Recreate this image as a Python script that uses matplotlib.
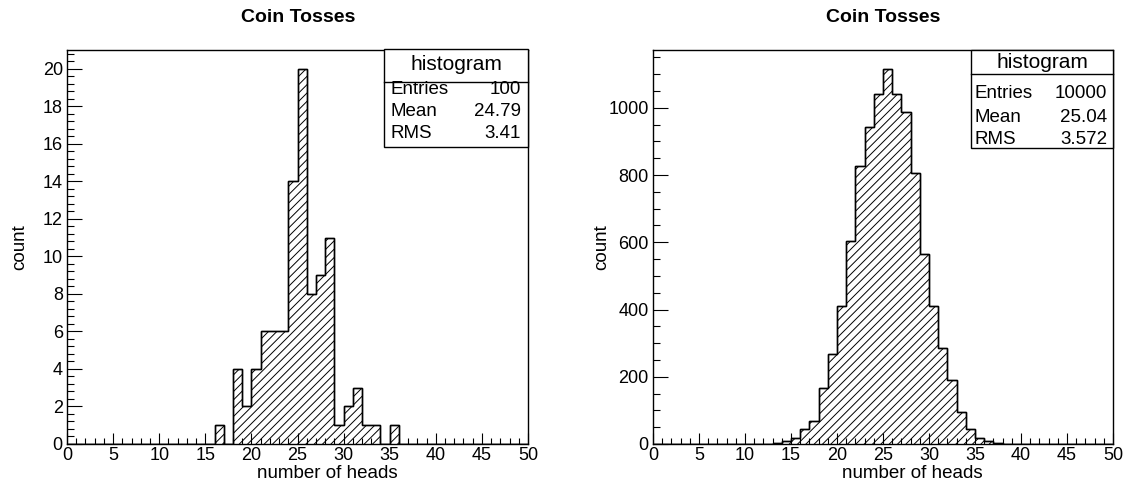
import matplotlib.pyplot as plt
import numpy as np
from matplotlib.patches import Rectangle
from matplotlib.lines import Line2D
from matplotlib.ticker import MultipleLocator

plt.rcParams['font.family'] = ['Liberation Sans', 'DejaVu Sans']
plt.rcParams['hatch.linewidth'] = 0.7

# Data: number of heads in 50 tosses (bin start) and counts
heads_left = [16, 18, 19, 20, 21, 22, 23, 24, 25, 26, 27, 28, 29, 30, 31, 32, 33, 35]
counts_left = [1, 4, 2, 4, 6, 6, 6, 14, 20, 8, 9, 11, 1, 2, 3, 1, 1, 1]

heads_right = list(range(12, 39))
counts_right = [1, 3, 10, 18, 45, 69, 166, 268, 411, 603, 828, 943, 1041, 1116,
                1041, 987, 806, 565, 409, 286, 191, 96, 46, 17, 10, 3, 1]

stat_labels = ['Entries', 'Mean', 'RMS']
stats_left = ['100', '24.79', '3.41']
stats_right = ['10000', '25.04', '3.572']

edges = np.arange(0, 51)

W, H = 1128, 486
fig = plt.figure(figsize=(W / 100, H / 100), dpi=100)


def px_rect(x0, y0, x1, y1):
    return [x0 / W, 1 - y1 / H, (x1 - x0) / W, (y1 - y0) / H]


def fx(x):
    return x / W


def fy(y):
    return 1 - y / H


def draw_hist(ax, heads, counts, ymax, ymajor, yminor):
    full = np.zeros(len(edges) - 1)
    for h, c in zip(heads, counts):
        full[h] = c
    ax.stairs(full, edges, fill=True, facecolor='none', edgecolor='black',
              hatch='////', linewidth=1.0)
    ax.stairs(full, edges, fill=False, color='black', linewidth=1.0)
    ax.set_xlim(0, 50)
    ax.set_ylim(0, ymax)
    ax.xaxis.set_major_locator(MultipleLocator(5))
    ax.xaxis.set_minor_locator(MultipleLocator(1))
    ax.yaxis.set_major_locator(MultipleLocator(ymajor))
    ax.yaxis.set_minor_locator(MultipleLocator(yminor))
    ax.tick_params(axis='x', which='major', direction='in', length=8, width=0.8,
                   labelsize=13, pad=2.5)
    ax.tick_params(axis='x', which='minor', direction='in', length=4, width=0.8)
    ax.tick_params(axis='y', which='major', direction='in', length=10.5, width=0.8,
                   labelsize=13, pad=3)
    ax.tick_params(axis='y', which='minor', direction='in', length=5, width=0.8)
    for s in ax.spines.values():
        s.set_linewidth(1.0)


def stats_box(x0, y0, x1, y1, sep, head_y, row_ys, lab_x, val_x, values):
    fig.add_artist(Rectangle((fx(x0), fy(y1)), fx(x1 - x0), (y1 - y0) / H,
                             transform=fig.transFigure, facecolor='white',
                             edgecolor='black', linewidth=1.0, zorder=5))
    fig.add_artist(Line2D([fx(x0), fx(x1)], [fy(sep), fy(sep)],
                          transform=fig.transFigure, color='black',
                          linewidth=1.0, zorder=6))
    fig.text(fx((x0 + x1) / 2), fy(head_y), 'histogram', ha='center',
             va='center', fontsize=15, zorder=7)
    for lab, val, ry in zip(stat_labels, values, row_ys):
        fig.text(fx(lab_x), fy(ry), lab, ha='left', va='center',
                 fontsize=13.5, zorder=7)
        fig.text(fx(val_x), fy(ry), val, ha='right', va='center',
                 fontsize=13.5, zorder=7)


ax1 = fig.add_axes(px_rect(67, 50, 528, 444))
ax2 = fig.add_axes(px_rect(653, 50, 1113, 444))

draw_hist(ax1, heads_left, counts_left, 1.05 * max(counts_left), 2, 0.4)
draw_hist(ax2, heads_right, counts_right, 1.05 * max(counts_right), 200, 50)

# titles and axis labels
fig.text(fx(298), fy(18), 'Coin Tosses', ha='center', va='center',
         fontsize=14, fontweight='bold')
fig.text(fx(883), fy(18), 'Coin Tosses', ha='center', va='center',
         fontsize=14, fontweight='bold')
fig.text(fx(327), fy(473), 'number of heads', ha='center', va='center', fontsize=13.5)
fig.text(fx(912), fy(473), 'number of heads', ha='center', va='center', fontsize=13.5)
fig.text(fx(20), fy(247), 'count', ha='center', va='center', rotation=90, fontsize=13.5)
fig.text(fx(602), fy(247), 'count', ha='center', va='center', rotation=90, fontsize=13.5)

# stats boxes
stats_box(384, 49.5, 528, 147, 82, 65, [89, 111, 134], 390, 521, stats_left)
stats_box(971, 50, 1113, 148, 74, 62, [94, 117, 140], 975, 1107, stats_right)

fig.savefig('out.png', dpi=100)
